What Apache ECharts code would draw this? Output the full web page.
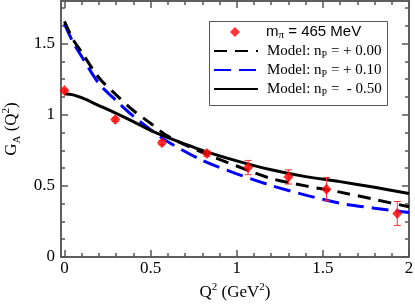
<!DOCTYPE html>
<html>
<head>
<meta charset="utf-8">
<script src="https://cdn.jsdelivr.net/npm/echarts@6/dist/echarts.min.js"></script>
<style>
html,body{margin:0;padding:0;background:#fff;}
#chart{width:415px;height:305px;}
</style>
</head>
<body>
<div id="chart"></div>
<script>
// ---- data ----
const ptX = [0.0, 0.295, 0.566, 0.827, 1.066, 1.30, 1.521, 1.932];
const ptY = [1.171, 0.966, 0.804, 0.727, 0.629, 0.563, 0.477, 0.306];
const ptErr = [0.01, 0.012, 0.015, 0.02, 0.05, 0.05, 0.082, 0.084];

const curveX = [0, 0.05, 0.1, 0.2, 0.3, 0.4, 0.5, 0.6, 0.8, 1.0, 1.2, 1.4, 1.6, 1.8, 2.0];
const np000 = [1.657, 1.53, 1.44, 1.26, 1.14, 1.03, 0.94, 0.85, 0.735, 0.64, 0.552, 0.50, 0.456, 0.405, 0.353];
const np010 = [1.639, 1.51, 1.41, 1.22, 1.10, 0.99, 0.895, 0.81, 0.68, 0.585, 0.503, 0.435, 0.378, 0.343, 0.313];
const npm050 = [1.148, 1.14, 1.12, 1.065, 1.01, 0.952, 0.89, 0.84, 0.75, 0.676, 0.613, 0.565, 0.53, 0.49, 0.447];

const xMajor = [0, 0.5, 1, 1.5, 2];
const xMinor = [0.1,0.2,0.3,0.4,0.6,0.7,0.8,0.9,1.1,1.2,1.3,1.4,1.6,1.7,1.8,1.9];
const yMajor = [0, 0.5, 1, 1.5];
const yMinor = [0.125,0.25,0.375,0.625,0.75,0.875,1.125,1.25,1.375,1.625,1.75];

const legendNames = ['m_pi = 465 MeV', 'Model: nP = +0.00', 'Model: nP = +0.10', 'Model: nP = -0.50'];

// ---- chart ----
const serif = 'Liberation Serif';
const sans = 'Liberation Sans';
const frameColor = '#555';
const chart = echarts.init(document.getElementById('chart'), null, {renderer: 'canvas'});

const XMIN = -0.02, XMAX = 2, YMIN = 0, YMAX = 1.8;

function mkX(pos, ticks, len, labels, extra) {
  return Object.assign({
    type: 'value', min: XMIN, max: XMAX, position: pos,
    axisLine: {show: true, onZero: false, lineStyle: {color: frameColor, width: 1.5}},
    axisTick: {show: true, inside: true, length: len, customValues: ticks, lineStyle: {color: frameColor, width: 1.5}},
    axisLabel: labels ? {show: true, customValues: ticks, fontFamily: serif, fontSize: 17, color: '#000', margin: 3,
      formatter: v => String(Math.round(v * 10) / 10)} : {show: false},
    splitLine: {show: false}
  }, extra || {});
}
function mkY(pos, ticks, len, labels, extra) {
  return Object.assign({
    type: 'value', min: YMIN, max: YMAX, position: pos,
    axisLine: {show: true, onZero: false, lineStyle: {color: frameColor, width: 1.5}},
    axisTick: {show: true, inside: true, length: len, customValues: ticks, lineStyle: {color: frameColor, width: 1.5}},
    axisLabel: labels ? {show: true, customValues: ticks, fontFamily: serif, fontSize: 17, color: '#000', margin: 6,
      formatter: v => String(Math.round(v * 10) / 10)} : {show: false},
    splitLine: {show: false}
  }, extra || {});
}

const richName = {
  n: {fontFamily: serif, fontSize: 17, color: '#000', lineHeight: 22},
  sub: {fontFamily: serif, fontSize: 11, color: '#000', lineHeight: 22, verticalAlign: 'bottom'},
  sup: {fontFamily: serif, fontSize: 11, color: '#000', lineHeight: 22, verticalAlign: 'top'}
};

const legendRich = {
  s: {fontFamily: sans, fontSize: 15, color: '#000', lineHeight: 18},
  s0: {fontFamily: sans, fontSize: 15, color: '#000', lineHeight: 18, padding: [0, 0, 0, 21]},
  ssub: {fontFamily: serif, fontSize: 11, color: '#000', lineHeight: 18, verticalAlign: 'bottom'},
  t: {fontFamily: serif, fontSize: 15, color: '#000', lineHeight: 18},
  t0: {fontFamily: serif, fontSize: 15, color: '#000', lineHeight: 18, padding: [0, 0, 0, 4]},
  tsub: {fontFamily: serif, fontSize: 10, color: '#000', lineHeight: 18, verticalAlign: 'bottom'}
};
function legendFmt(name) {
  if (name === legendNames[0]) return '{s0|m}{ssub|π}{s| = 465 MeV}';
  if (name === legendNames[1]) return '{t0|Model: n}{tsub|P}{t| = + 0.00}';
  if (name === legendNames[2]) return '{t0|Model: n}{tsub|P}{t| = + 0.10}';
  return '{t0|Model: n}{tsub|P}{t| =  - 0.50}';
}
const hideSym = {opacity: 0};

const option = {
  animation: false,
  backgroundColor: '#fff',
  grid: {left: 61, right: 6, top: 1, bottom: 48, containLabel: false, outerBoundsMode: 'none'},
  graphic: [{
    type: 'rect', left: 207, top: 19, z: 100, silent: true,
    shape: {width: 178, height: 84},
    style: {fill: 'none', stroke: '#555', lineWidth: 1}
  }],
  xAxis: [
    mkX('bottom', xMajor, 7, true, {
      name: '{n|Q}{sup|2}{n| (GeV}{sup|2}{n|)}', nameLocation: 'middle', nameGap: 25,
      nameTextStyle: {rich: richName}
    }),
    mkX('bottom', xMinor, 4, false),
    mkX('top', xMajor, 7, false),
    mkX('top', xMinor, 4, false)
  ],
  yAxis: [
    mkY('left', yMajor, 7, true, {
      name: '{n|G}{sub|A}{n| (Q}{sup|2}{n|)}', nameLocation: 'middle', nameGap: 35, nameRotate: 90,
      nameTextStyle: {rich: richName}
    }),
    mkY('left', yMinor, 4, false),
    mkY('right', yMajor, 7, false),
    mkY('right', yMinor, 4, false)
  ],
  legend: [
    {
      orient: 'vertical', left: 230, top: 23, padding: 0,
      itemWidth: 10, itemHeight: 10,
      data: [{name: legendNames[0], icon: 'diamond'}],
      textStyle: {fontFamily: sans, fontSize: 15, color: '#000', lineHeight: 18, rich: legendRich},
      formatter: legendFmt
    },
    {
      orient: 'vertical', left: 213, top: 42, padding: 0,
      itemWidth: 44, itemHeight: 10, itemGap: 1,
      data: [
        {name: legendNames[1], itemStyle: hideSym},
        {name: legendNames[2], itemStyle: hideSym},
        {name: legendNames[3], itemStyle: hideSym}
      ],
      textStyle: {fontFamily: serif, fontSize: 15, color: '#000', lineHeight: 18, rich: legendRich},
      formatter: legendFmt
    }
  ],
  series: [
    {
      name: legendNames[1], type: 'line', smooth: 0.3, symbol: 'none',
      data: curveX.map((x, i) => [x, np000[i]]),
      lineStyle: {color: '#000', width: 3, type: [13, 8]}, itemStyle: {color: '#000'}, z: 3
    },
    {
      name: legendNames[2], type: 'line', smooth: 0.3, symbol: 'none',
      data: curveX.map((x, i) => [x, np010[i]]),
      lineStyle: {color: '#0000ff', width: 3, type: [17, 8]}, itemStyle: {color: '#0000ff'}, z: 2
    },
    {
      name: legendNames[3], type: 'line', smooth: 0.3, symbol: 'none',
      data: curveX.map((x, i) => [x, npm050[i]]),
      lineStyle: {color: '#000', width: 3, type: 'solid'}, itemStyle: {color: '#000'}, z: 4
    },
    {
      name: 'err', type: 'custom',
      data: ptX.map((x, i) => [x, ptY[i] - ptErr[i], ptY[i] + ptErr[i]]),
      renderItem: function (params, api) {
        const lo = api.coord([api.value(0), api.value(1)]);
        const hi = api.coord([api.value(0), api.value(2)]);
        const w = 3.5;
        const st = {stroke: '#ff3030', lineWidth: 1};
        return {type: 'group', children: [
          {type: 'line', shape: {x1: lo[0], y1: lo[1], x2: hi[0], y2: hi[1]}, style: st},
          {type: 'line', shape: {x1: lo[0] - w, y1: lo[1], x2: lo[0] + w, y2: lo[1]}, style: st},
          {type: 'line', shape: {x1: hi[0] - w, y1: hi[1], x2: hi[0] + w, y2: hi[1]}, style: st}
        ]};
      },
      z: 5
    },
    {
      name: legendNames[0], type: 'scatter', symbol: 'diamond', symbolSize: [10, 11],
      data: ptX.map((x, i) => [x, ptY[i]]),
      itemStyle: {color: '#ff0000'}, z: 6
    }
  ]
};
chart.setOption(option);
</script>
</body>
</html>
